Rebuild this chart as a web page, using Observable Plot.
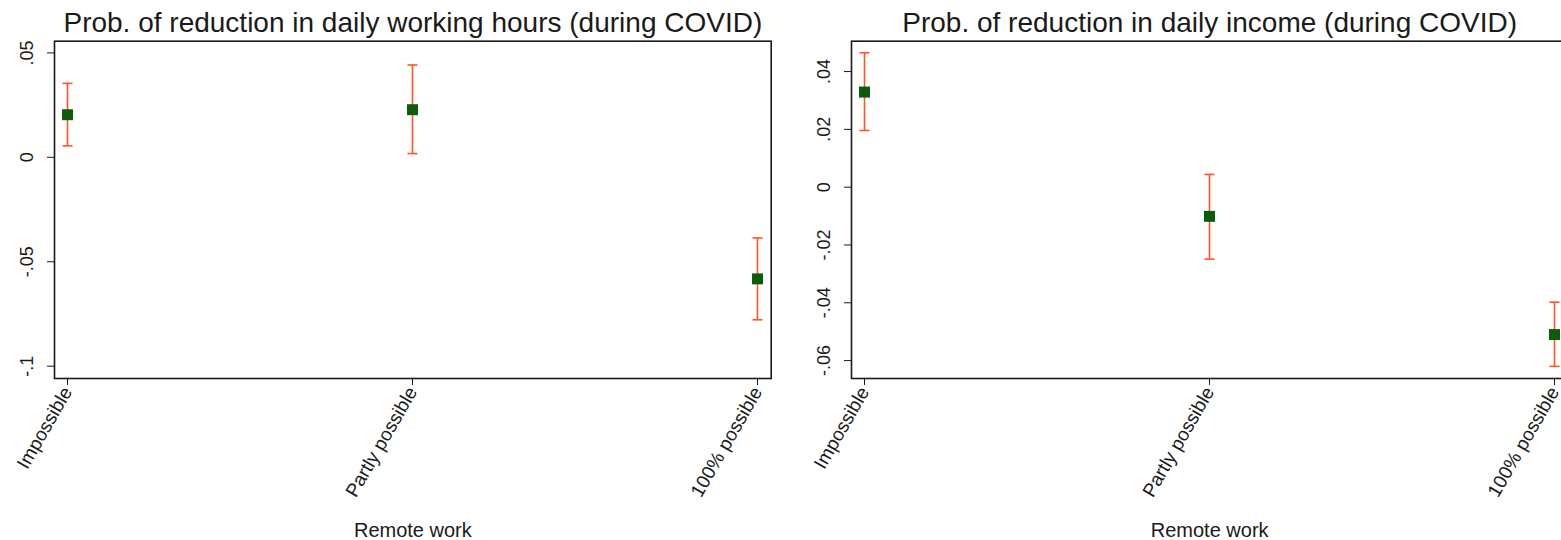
<!DOCTYPE html>
<html><head><meta charset="utf-8">
<script src="https://cdn.jsdelivr.net/npm/d3@7"></script>
<script src="https://cdn.jsdelivr.net/npm/@observablehq/plot@0.6"></script>
<style>
html,body{margin:0;padding:0;background:#fff;overflow:hidden;}
#wrap{display:flex;width:1600px;}
#wrap svg{font-family:"Liberation Sans",Arial,sans-serif;flex:none;}
</style></head><body><div id="wrap"></div>
<script>
const categories = ["Impossible", "Partly possible", "100% possible"];
const hoursEstimate = [0.0204, 0.0228, -0.0582];
const hoursLower = [0.0055, 0.0018, -0.0778];
const hoursUpper = [0.0354, 0.0442, -0.0386];
const incomeEstimate = [0.0329, -0.0101, -0.0510];
const incomeLower = [0.0196, -0.0249, -0.0620];
const incomeUpper = [0.0465, 0.0044, -0.0398];
const hoursTicks = [-0.1, -0.05, 0, 0.05];
const incomeTicks = [-0.06, -0.04, -0.02, 0, 0.02, 0.04];
const hoursTitle = "Prob. of reduction in daily working hours (during COVID)";
const incomeTitle = "Prob. of reduction in daily income (during COVID)";
const xLabel = "Remote work";

const GREEN = "#0b5c0b";
const ORANGE = "#ff5522";
const INK = "#1a1a1a";
const stataFormat = d => d === 0 ? "0" : String(d).replace(/^(-?)0\./, "$1.");
const capSymbol = {draw(ctx, size) { const r = Math.sqrt(size / Math.PI); ctx.moveTo(-r, 0); ctx.lineTo(r, 0); }};

function panel({width, marginLeft, marginRight, yDomain, ticks, est, lo, hi, title}) {
  const data = categories.map((c, i) => ({cat: c, est: est[i], lo: lo[i], hi: hi[i]}));
  return Plot.plot({
    width, height: 540,
    marginTop: 40.7, marginBottom: 162, marginLeft, marginRight,
    style: {fontFamily: '"Liberation Sans", Arial, sans-serif', fontSize: "18px", color: INK, background: "#fff"},
    x: {type: "point", domain: categories, padding: 0.0366},
    y: {domain: yDomain},
    marks: [
      Plot.frame({stroke: INK, strokeWidth: 1.6}),
      Plot.axisY({ticks, tickSize: 7, tickFormat: () => "", label: null}),
      Plot.axisY({ticks, tickFormat: stataFormat, tickSize: 0, tickRotate: -90, dx: -13, label: null, fontSize: 18}),
      Plot.axisX({tickSize: 7, tickRotate: -60, tickPadding: 3, label: null, fontSize: 19}),
      Plot.ruleX(data, {x: "cat", y1: "lo", y2: "hi", stroke: ORANGE, strokeWidth: 1.6}),
      Plot.dot(data, {x: "cat", y: "lo", symbol: capSymbol, r: 5, fill: "none", stroke: ORANGE, strokeWidth: 1.6}),
      Plot.dot(data, {x: "cat", y: "hi", symbol: capSymbol, r: 5, fill: "none", stroke: ORANGE, strokeWidth: 1.6}),
      Plot.dot(data, {x: "cat", y: "est", symbol: "square", r: 6.2, fill: GREEN, stroke: null}),
      Plot.text([title], {frameAnchor: "top", lineAnchor: "middle", dy: -17.7, fontSize: 28, fill: INK}),
      Plot.text([xLabel], {frameAnchor: "bottom", lineAnchor: "middle", dy: 152, fontSize: 20, fill: INK})
    ]
  });
}

const wrap = document.getElementById("wrap");
wrap.append(panel({width: 790, marginLeft: 54, marginRight: 19.3, yDomain: [-0.1059, 0.0556], ticks: hoursTicks,
  est: hoursEstimate, lo: hoursLower, hi: hoursUpper, title: hoursTitle}));
wrap.append(panel({width: 800, marginLeft: 61, marginRight: 22.7, yDomain: [-0.0662, 0.0505], ticks: incomeTicks,
  est: incomeEstimate, lo: incomeLower, hi: incomeUpper, title: incomeTitle}));
</script></body></html>
